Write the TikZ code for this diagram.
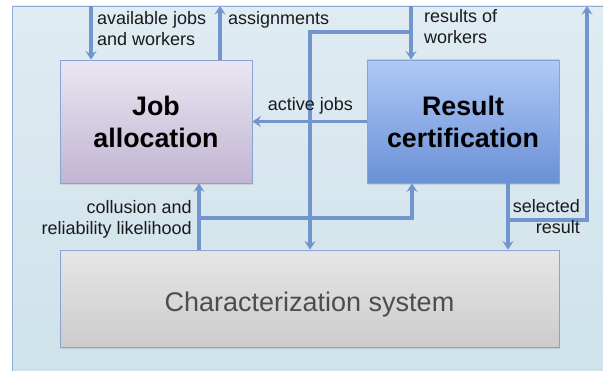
\documentclass[tikz,border=0pt]{standalone}
\usepackage{fontspec}
\setmainfont{Liberation Sans}
\usetikzlibrary{arrows.meta,shadows}
\definecolor{arrcol}{HTML}{7195CC}
\definecolor{framecol}{HTML}{8FAEDA}
\definecolor{bgtop}{HTML}{E0EBF2}
\definecolor{bgbot}{HTML}{CDE2EA}
\definecolor{jobtop}{HTML}{EAE6F1}
\definecolor{jobbot}{HTML}{C1B5D3}
\definecolor{restop}{HTML}{AFC9F7}
\definecolor{resbot}{HTML}{6A90D5}
\definecolor{chartop}{HTML}{E6E6E6}
\definecolor{charbot}{HTML}{CCCCCC}
\definecolor{boxline}{HTML}{8AA3D2}
\definecolor{chartext}{HTML}{4D4D4D}
\definecolor{labtext}{HTML}{1A1A1A}
\tikzset{
  arr/.style={draw=arrcol, line width=3.3pt, -{Stealth[length=8.5pt,width=11pt,inset=3pt]}},
  blockbox/.style={draw=boxline, line width=0.8pt, inner sep=0pt, shading=axis, shading angle=0,
    drop shadow={opacity=0.22, shadow xshift=0.8pt, shadow yshift=-1.6pt}},
  titletext/.style={font=\bfseries\fontsize{26.8}{32}\selectfont, align=center, text=black},
  lab/.style={font=\fontsize{18}{21}\selectfont, inner sep=0pt, text=labtext}
}
\begin{document}
\begin{tikzpicture}[x=1pt, y=-1pt]
\useasboundingbox (0,0) rectangle (603,371);
% frame
\shade[top color=bgtop, bottom color=bgbot] (12.5,6) rectangle (620,390);
\draw[framecol, line width=0.9pt] (620,6) -- (12.5,6) -- (12.5,390);

% boxes
\node[blockbox, top color=jobtop, bottom color=jobbot, minimum width=192pt, minimum height=123pt, titletext] (job) at (156,121.5) {Job\\allocation};
\node[blockbox, top color=restop, bottom color=resbot, minimum width=192pt, minimum height=123pt, titletext] (res) at (463,121.5) {Result\\certification};
\node[blockbox, top color=chartop, bottom color=charbot, minimum width=499pt, minimum height=97pt,
  font=\fontsize{27}{32}\selectfont, text=chartext, text height=26pt, text depth=0pt] (char) at (309.5,298.5) {Characterization system};

% coordinates
\coordinate (aj) at (91,6);
\coordinate (as) at (220,6);
\coordinate (rw) at (411,6);
\coordinate (k1) at (411,32);
\coordinate (k2) at (310,32);
\coordinate (c1) at (199,218);
\coordinate (c2) at (412,218);
\coordinate (s1) at (508,220);
\coordinate (s2) at (587,220);
\coordinate (s3) at (587,6);

% connectors
\draw[arr] (aj) -- (aj |- job.north);
\draw[arr] (as |- job.north) -- (as);
\draw[arr] (rw) -- (rw |- res.north);
\draw[arr] (k1) -- (k2) -- (k2 |- char.north);
\draw[arr] (res.west) -- (job.east);
\draw[arr] (c1 |- char.north) -- (c1 |- job.south);
\draw[arr] (c1) -- (c2) -- (c2 |- res.south);
\draw[arr] (s1 |- res.south) -- (s1 |- char.north);
\draw[arr] (s1) -- (s2) -- (s3);

% labels
\node[lab, anchor=north west, align=left] (l1) at (97,11.5) {available jobs\\and workers};
\node[lab, anchor=base west] (l2) at (228,24.5) {assignments};
\node[lab, anchor=north west, align=left] (l3) at (424,9.5) {results of\\workers};
\node[lab, anchor=base east] (l4) at (353,110.5) {active jobs};
\node[lab, anchor=north east, align=right] (l5) at (192,199.8) {collusion and\\reliability likelihood};
\node[lab, anchor=north east, align=right] (l6) at (580,199.5) {selected\\result};
\end{tikzpicture}
\end{document}
